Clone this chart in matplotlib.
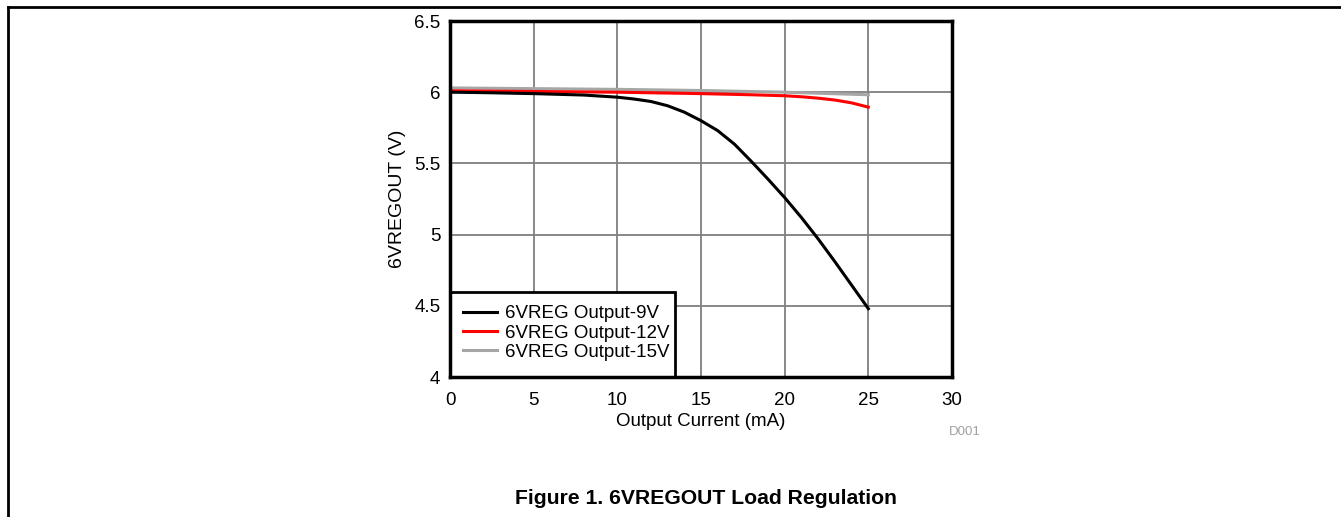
import matplotlib
matplotlib.use("Agg")
import matplotlib.pyplot as plt
from matplotlib.lines import Line2D
from matplotlib.patches import Rectangle

plt.rcParams['font.family'] = ['Liberation Sans', 'DejaVu Sans']

x_9v = [0, 2, 5, 8, 10, 11, 12, 13, 14, 15, 16, 17, 18, 19, 20, 21, 22, 23, 24, 25]
y_9v = [6.0, 5.997, 5.99, 5.98, 5.965, 5.952, 5.935, 5.905, 5.86, 5.80, 5.73, 5.635, 5.515, 5.39, 5.26, 5.12, 4.97, 4.81, 4.645, 4.48]

x_12v = [0, 5, 10, 15, 18, 20, 21, 22, 23, 24, 25]
y_12v = [6.01, 6.005, 6.0, 5.99, 5.982, 5.975, 5.968, 5.958, 5.945, 5.925, 5.895]

x_15v = [0, 5, 10, 15, 20, 25]
y_15v = [6.03, 6.025, 6.02, 6.012, 6.0, 5.982]

labels = ['6VREG Output-9V', '6VREG Output-12V', '6VREG Output-15V']
colors = ['#000000', '#ff0000', '#a6a6a6']

fig = plt.figure(figsize=(13.41, 5.17), dpi=100)
W, H = 1341, 517
AW, AH = 952 - 450, 377 - 21
ax = fig.add_axes([450 / W, 1 - 377 / H, AW / W, AH / H])

ax.plot(x_15v, y_15v, color=colors[2], lw=2.2, zorder=3)
ax.plot(x_12v, y_12v, color=colors[1], lw=2.2, zorder=4)
ax.plot(x_9v, y_9v, color=colors[0], lw=2.2, zorder=5)

ax.set_xlim(0, 30)
ax.set_ylim(4, 6.5)
ax.set_xticks([0, 5, 10, 15, 20, 25, 30])
ax.set_yticks([4, 4.5, 5, 5.5, 6, 6.5])
ax.set_yticklabels(['4', '4.5', '5', '5.5', '6', '6.5'])
ax.grid(True, color='#7f7f7f', lw=1.3)
ax.set_axisbelow(True)
for s in ax.spines.values():
    s.set_linewidth(2.5)
    s.set_color('black')
    s.set_zorder(12)
ax.tick_params(axis='x', length=0, labelsize=13.5, pad=11)
ax.tick_params(axis='y', length=0, labelsize=13.5, pad=7)
ax.set_xlabel('Output Current (mA)', fontsize=13.5, labelpad=3)
ax.set_ylabel('6VREGOUT (V)', fontsize=14, labelpad=6)

# legend frame
ax.add_patch(Rectangle((0, 0), 225 / AW, 85 / AH, transform=ax.transAxes,
                       facecolor='white', edgecolor='black', lw=2.0, zorder=9,
                       clip_on=False))
handles = [Line2D([0], [0], color=c, lw=2.2) for c in colors]
leg = ax.legend(handles, labels, loc='lower left', fontsize=13.5, frameon=False,
                bbox_to_anchor=(13 / AW, 16 / AH), borderaxespad=0,
                handlelength=1.81, handletextpad=0.43, labelspacing=0.12,
                borderpad=0)
leg.set_zorder(10)

fig.text(965 / W, 1 - 432 / H, 'D001', color='#a0a0a0', fontsize=9.5, ha='center', va='center')
fig.text(706 / W, 1 - 498 / H, 'Figure 1. 6VREGOUT Load Regulation', fontsize=15.2,
         fontweight='bold', ha='center', va='center')

fig.add_artist(Line2D([8 / W, 8 / W], [0, 1 - 7 / H], color='black', lw=2, transform=fig.transFigure))
fig.add_artist(Line2D([8 / W, 1], [1 - 7 / H, 1 - 7 / H], color='black', lw=2, transform=fig.transFigure))

fig.savefig('out.png', dpi=100)
